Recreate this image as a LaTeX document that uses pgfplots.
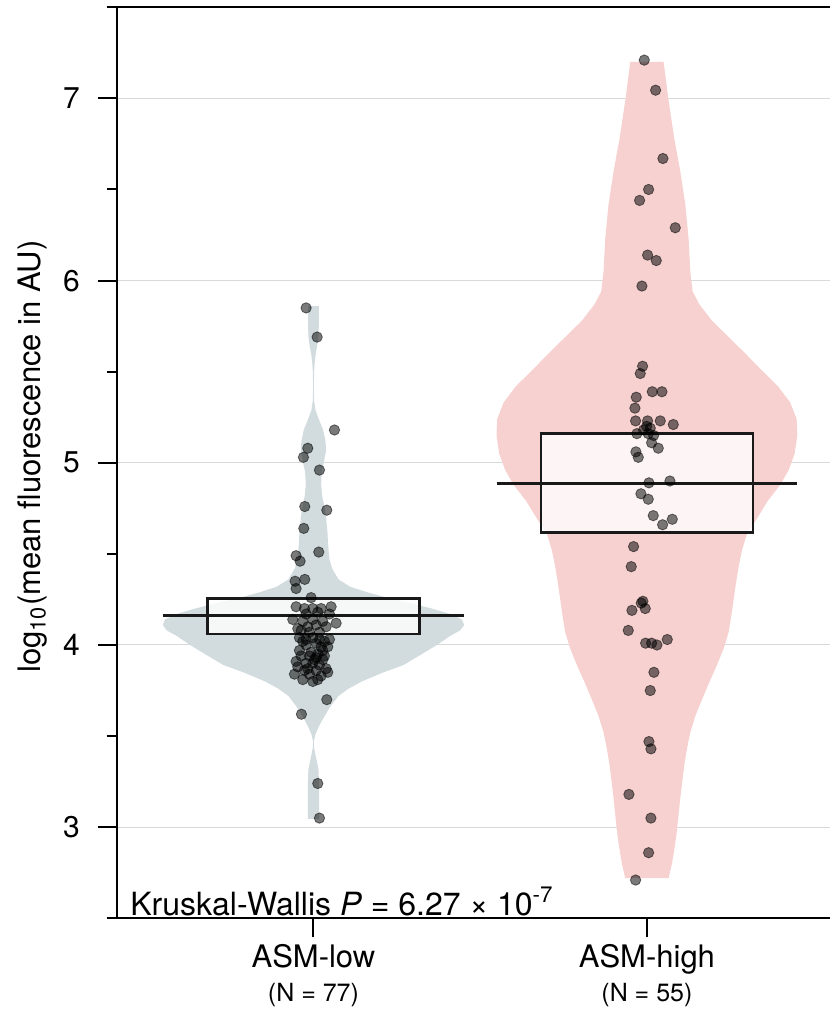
\documentclass[border=0pt]{standalone}
\usepackage{pgfplots}
\pgfplotsset{compat=1.18}
\usepackage{fontspec}
\setmainfont{TeX Gyre Heros}
\definecolor{lowviolin}{HTML}{D2DCDF}
\definecolor{highviolin}{HTML}{F6D1CF}
\definecolor{gridgray}{HTML}{D9D9D9}
\begin{document}
\begin{tikzpicture}
\useasboundingbox (-58.35pt,-45.85pt) rectangle (356.65pt,459.15pt);
\begin{axis}[
  scale only axis, width=356.65pt, height=455.5pt,
  xmin=0.41, xmax=2.549, ymin=2.5, ymax=7.5,
  axis x line=box, axis y line=left,
  axis line style={-, line width=1pt, black},
  xtick={1,2},
  xticklabels={{ASM-low\\[-0.65pt]{\fontsize{12.5}{14}\selectfont (N = 77)}},{ASM-high\\[-0.65pt]{\fontsize{12.5}{14}\selectfont (N = 55)}}},
  ytick={3,4,5,6,7}, minor ytick={2.5,3.5,4.5,5.5,6.5,7.5},
  xtick pos=left, ytick pos=left,
  tick align=outside, major tick length=9.5pt, minor tick length=5pt,
  tick style={line width=1pt, black},
  ymajorgrids, major grid style={line width=0.5pt, gridgray},
  /pgf/number format/assume math mode=true,
  yticklabel style={font=\fontsize{15}{18}\selectfont, xshift=-5.35pt},
  xticklabel style={align=center, anchor=base, yshift=-32.2pt, font=\fontsize{15.5}{17.85}\selectfont},
  ylabel={log\textsubscript{10}(mean fluorescence in AU)},
  ylabel style={at={(axis description cs:-0.1074,0.507)}, anchor=base, font=\fontsize{15.5}{18}\selectfont},
]
% violins
\addplot[draw=none, fill=lowviolin] coordinates {
(0.983,3.046) (0.983,3.13) (0.983,3.23) (0.985,3.32) (0.992,3.38) (0.998,3.435) (0.999,3.47) (0.994,3.51) (0.982,3.56) (0.968,3.605) (0.950,3.66) (0.925,3.72) (0.895,3.76) (0.855,3.80) (0.790,3.85) (0.730,3.89) (0.675,3.95) (0.630,4.00) (0.590,4.05) (0.560,4.08) (0.548,4.11) (0.555,4.14) (0.590,4.17) (0.645,4.20) (0.710,4.23) (0.780,4.26) (0.840,4.29) (0.890,4.32) (0.925,4.36) (0.944,4.42) (0.952,4.47) (0.956,4.55) (0.958,4.62) (0.962,4.70) (0.967,4.76) (0.974,4.82) (0.977,4.88) (0.975,4.95) (0.969,5.00) (0.962,5.07) (0.964,5.12) (0.971,5.18) (0.984,5.24) (0.994,5.29) (0.998,5.34) (0.999,5.42) (0.998,5.50) (0.996,5.56) (0.993,5.60) (0.988,5.65) (0.985,5.69) (0.984,5.75) (0.984,5.86)
(1.016,5.86) (1.016,5.75) (1.015,5.69) (1.012,5.65) (1.007,5.60) (1.004,5.56) (1.002,5.50) (1.001,5.42) (1.002,5.34) (1.006,5.29) (1.016,5.24) (1.029,5.18) (1.036,5.12) (1.038,5.07) (1.031,5.00) (1.025,4.95) (1.023,4.88) (1.026,4.82) (1.033,4.76) (1.038,4.70) (1.042,4.62) (1.044,4.55) (1.048,4.47) (1.056,4.42) (1.075,4.36) (1.110,4.32) (1.160,4.29) (1.220,4.26) (1.290,4.23) (1.355,4.20) (1.410,4.17) (1.445,4.14) (1.452,4.11) (1.440,4.08) (1.410,4.05) (1.370,4.00) (1.325,3.95) (1.270,3.89) (1.210,3.85) (1.145,3.80) (1.105,3.76) (1.075,3.72) (1.050,3.66) (1.032,3.605) (1.018,3.56) (1.006,3.51) (1.001,3.47) (1.002,3.435) (1.008,3.38) (1.015,3.32) (1.017,3.23) (1.017,3.13) (1.017,3.046)
} -- cycle;
\addplot[draw=none, fill=highviolin] coordinates {
(1.935,2.72) (1.925,2.80) (1.916,2.90) (1.910,2.98) (1.905,3.07) (1.900,3.16) (1.894,3.25) (1.888,3.34) (1.880,3.43) (1.870,3.52) (1.855,3.61) (1.835,3.70) (1.812,3.80) (1.790,3.89) (1.770,3.98) (1.755,4.07) (1.747,4.16) (1.740,4.25) (1.733,4.34) (1.725,4.43) (1.715,4.52) (1.700,4.61) (1.668,4.70) (1.638,4.79) (1.600,4.88) (1.575,4.96) (1.557,5.05) (1.549,5.15) (1.551,5.24) (1.570,5.33) (1.607,5.42) (1.657,5.51) (1.705,5.60) (1.755,5.69) (1.805,5.78) (1.843,5.87) (1.863,5.94) (1.870,6.05) (1.875,6.23) (1.885,6.42) (1.900,6.60) (1.918,6.78) (1.936,7.00) (1.950,7.20)
(2.050,7.20) (2.064,7.00) (2.082,6.78) (2.100,6.60) (2.115,6.42) (2.125,6.23) (2.130,6.05) (2.137,5.94) (2.157,5.87) (2.195,5.78) (2.245,5.69) (2.295,5.60) (2.343,5.51) (2.393,5.42) (2.430,5.33) (2.449,5.24) (2.451,5.15) (2.443,5.05) (2.425,4.96) (2.400,4.88) (2.362,4.79) (2.332,4.70) (2.300,4.61) (2.285,4.52) (2.275,4.43) (2.267,4.34) (2.260,4.25) (2.253,4.16) (2.245,4.07) (2.230,3.98) (2.210,3.89) (2.188,3.80) (2.165,3.70) (2.145,3.61) (2.130,3.52) (2.120,3.43) (2.112,3.34) (2.106,3.25) (2.100,3.16) (2.095,3.07) (2.090,2.98) (2.084,2.90) (2.075,2.80) (2.065,2.72)
} -- cycle;
% points
\addplot[only marks, mark=*, mark size=2.6pt, mark options={draw=none, fill=black, opacity=0.52}] coordinates {
(0.978,5.85) (1.011,5.69) (1.063,5.18) (0.983,5.08) (0.970,5.03) (1.018,4.96) (0.974,4.76) (1.040,4.74) (0.971,4.64) (1.016,4.51) (0.948,4.49) (0.960,4.46) (0.974,4.36) (0.945,4.35) (0.948,4.31) (0.993,4.26)
(0.948,4.21) (0.973,4.20) (0.998,4.20) (1.023,4.20) (1.053,4.21) (0.938,4.14) (0.968,4.13) (0.998,4.14) (1.028,4.13) (1.068,4.12) (0.953,4.09) (0.983,4.10) (1.008,4.11) (1.038,4.10) (0.988,4.07) (1.018,4.07) (0.963,4.08) (0.978,4.17) (1.013,4.18) (1.048,4.17)
(0.958,4.04) (0.978,4.03) (0.998,4.04) (1.018,4.03) (1.048,4.03) (0.968,4.02) (1.008,4.01) (1.033,4.02) (1.043,3.99) (1.023,3.99) (0.978,4.00)
(0.963,3.94) (0.988,3.94) (1.008,3.93) (1.028,3.92) (0.998,3.90) (1.018,3.89) (0.953,3.88) (0.978,3.90) (1.038,3.87) (1.008,3.86) (0.988,3.84) (1.023,3.83) (0.968,3.81) (0.998,3.80) (1.013,3.81) (0.948,3.91) (1.033,3.94)
(0.993,3.96) (1.003,3.92) (0.983,3.87) (1.013,3.95) (0.973,3.86) (1.043,3.85) (0.943,3.84) (1.028,3.97) (0.958,3.97)
(1.040,3.70) (0.964,3.62) (1.013,3.24) (1.018,3.05)
};
\addplot[only marks, mark=*, mark size=2.6pt, mark options={draw=none, fill=black, opacity=0.52}] coordinates {
(1.992,7.21) (2.026,7.045) (2.048,6.67) (2.005,6.50) (1.978,6.44) (2.085,6.29) (2.002,6.14) (2.028,6.11) (1.985,5.97) (1.987,5.53) (1.980,5.49) (2.016,5.39) (2.045,5.39) (1.968,5.36) (1.964,5.30) (1.966,5.23) (2.002,5.23) (2.040,5.23) (2.079,5.21) (1.999,5.20) (1.970,5.16) (2.004,5.16) (2.020,5.15) (1.990,5.18) (2.010,5.19)
(2.014,5.11) (2.034,5.08) (1.967,5.06) (1.974,5.03) (2.006,4.89) (2.069,4.90) (1.982,4.83) (2.004,4.80) (2.019,4.71) (2.047,4.66) (2.076,4.69)
(1.960,4.54) (1.953,4.43) (1.988,4.24) (1.995,4.20) (1.955,4.19) (1.983,4.23) (1.944,4.08) (1.996,4.01) (2.014,4.01) (2.030,4.00) (2.061,4.03) (2.021,3.85) (2.010,3.75) (2.006,3.47) (2.012,3.43) (1.946,3.18) (2.012,3.05) (2.005,2.86) (1.966,2.71)
};
% boxes
\addplot[draw=black!90, line width=1.2pt, fill=white, fill opacity=0.8] coordinates {(0.682,4.06) (1.318,4.06) (1.318,4.255) (0.682,4.255)} -- cycle;
\addplot[draw=black!90, line width=1.2pt, fill=white, fill opacity=0.8] coordinates {(1.682,4.617) (2.318,4.617) (2.318,5.16) (1.682,5.16)} -- cycle;
% medians
\addplot[black!90, line width=1.5pt] coordinates {(0.548,4.16) (1.452,4.16)};
\addplot[black!90, line width=1.5pt] coordinates {(1.549,4.885) (2.451,4.885)};
\node[anchor=base west, inner sep=0pt, font=\fontsize{16}{18}\selectfont] at (rel axis cs:0,0) [xshift=6.65pt, yshift=1.65pt] {Kruskal-Wallis \textit{P} = 6.27 × 10\textsuperscript{-7}};
\end{axis}
\end{tikzpicture}
\end{document}
